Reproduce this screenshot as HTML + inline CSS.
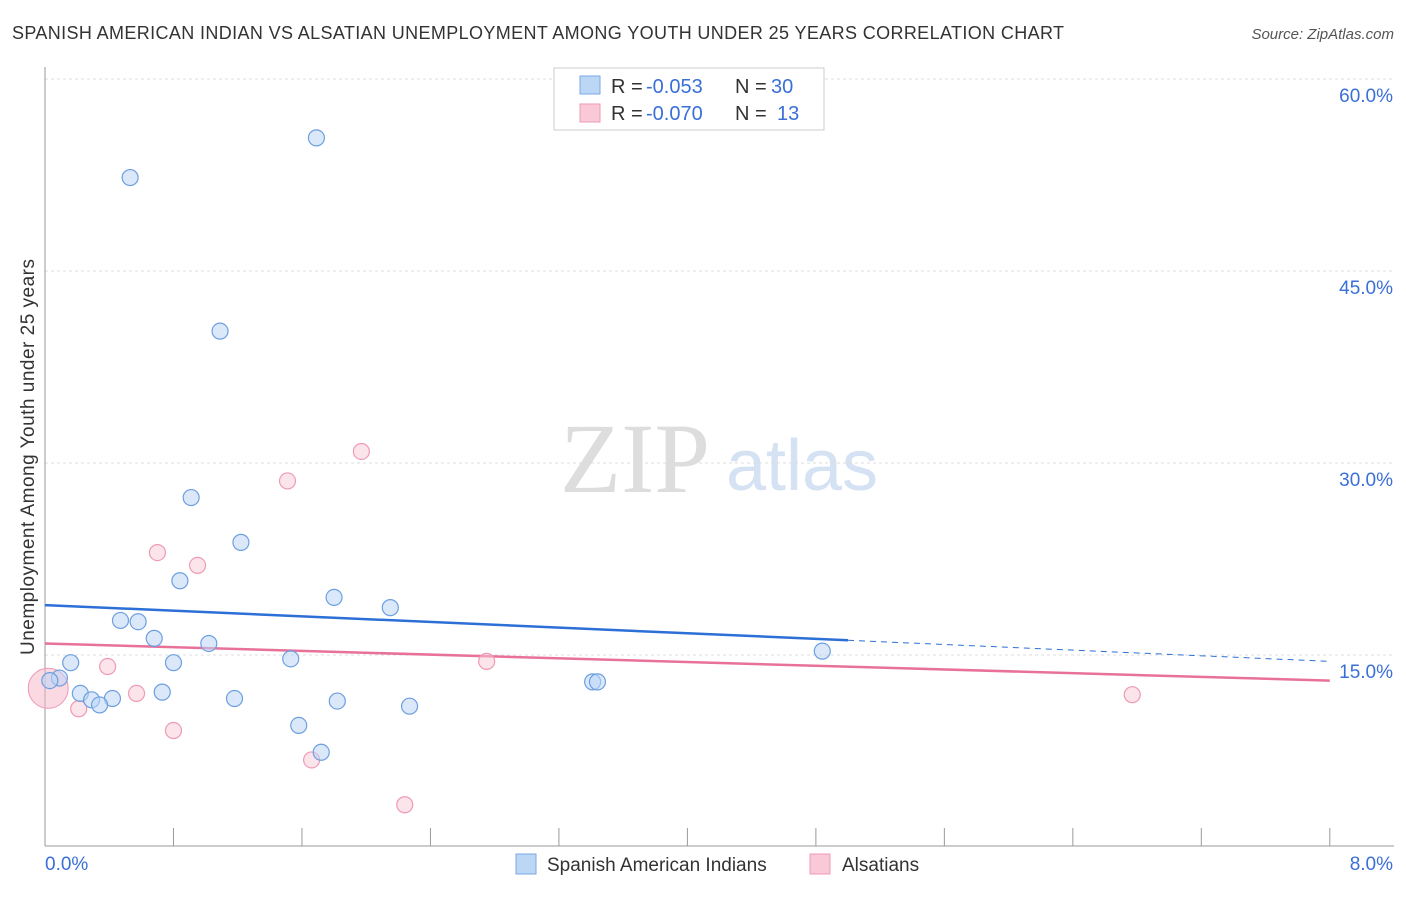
<!DOCTYPE html>
<html><head><meta charset="utf-8"><style>
body{margin:0;background:#fff;font-family:"Liberation Sans",sans-serif}
svg text{font-family:"Liberation Sans",sans-serif}
</style></head><body>
<svg id="chart" width="1406" height="892">
<text x="12" y="39" font-size="18" fill="#333" textLength="1052">SPANISH AMERICAN INDIAN VS ALSATIAN UNEMPLOYMENT AMONG YOUTH UNDER 25 YEARS CORRELATION CHART</text>
<text x="1394" y="39" font-size="15" fill="#555" text-anchor="end" font-style="italic">Source: ZipAtlas.com</text>
<text x="635" y="492" font-size="100" fill="#ddd" text-anchor="middle" style="font-family:'Liberation Serif',serif">ZIP</text>
<text x="802" y="490" font-size="72" fill="#d5e2f3" text-anchor="middle">atlas</text>
<text transform="translate(34,457) rotate(-90)" font-size="19" fill="#333" text-anchor="middle" textLength="396">Unemployment Among Youth under 25 years</text>
<g id="grid"></g><g id="trend"></g><g id="pts"></g>
<g>
<rect x="554" y="68" width="270" height="62" fill="#fff" stroke="#ccc"/>
<rect x="580" y="76" width="20" height="18" fill="#bcd6f5" stroke="#7aa8e6"/>
<rect x="580" y="104" width="20" height="18" fill="#f9c9d8" stroke="#ee9ab5"/>
<text x="611" y="93" font-size="20" fill="#333">R =</text>
<text x="646" y="93" font-size="20" fill="#3a6fd8">-0.053</text>
<text x="735" y="93" font-size="20" fill="#333">N =</text>
<text x="771" y="93" font-size="20" fill="#3a6fd8">30</text>
<text x="611" y="120" font-size="20" fill="#333">R =</text>
<text x="646" y="120" font-size="20" fill="#3a6fd8">-0.070</text>
<text x="735" y="120" font-size="20" fill="#333">N =</text>
<text x="777" y="120" font-size="20" fill="#3a6fd8">13</text>
</g>
<g>
<rect x="516" y="854" width="20" height="20" fill="#bcd6f5" stroke="#7aa8e6"/>
<text x="547" y="871" font-size="19" fill="#333">Spanish American Indians</text>
<rect x="810" y="854" width="20" height="20" fill="#f9c9d8" stroke="#ee9ab5"/>
<text x="842" y="871" font-size="19" fill="#333">Alsatians</text>
</g>
</svg>
<script>
const yTicks=[15,30,45,60];
const xTickLabels=["0.0%","8.0%"];
const blueX=[0.53,1.69,1.09,0.91,1.22,0.84,1.80,2.15,0.47,0.58,0.68,1.02,0.16,0.80,1.53,0.09,0.03,0.22,0.73,0.29,0.42,0.34,1.18,1.82,2.27,1.58,1.72,3.41,3.44,4.84];
const blueY=[52.3,55.4,40.3,27.3,23.8,20.8,19.5,18.7,17.7,17.6,16.3,15.9,14.4,14.4,14.7,13.2,13.0,12.0,12.1,11.5,11.6,11.1,11.6,11.4,11.0,9.5,7.4,12.9,12.9,15.3];
const pinkX=[1.97,1.51,0.70,0.95,0.39,0.57,0.21,0.80,2.75,1.66,2.24,6.77];
const pinkY=[30.9,28.6,23.0,22.0,14.1,12.0,10.8,9.1,14.5,6.8,3.3,11.9];
const bigPinkX=[0.02],bigPinkY=[12.4];
const blueTrend=[18.9,14.5],blueSolidEnd=5.0;
const pinkTrend=[15.9,13.0];
const X=v=>45+v*160.6, Y=v=>847-v*12.8;
const NS="http://www.w3.org/2000/svg";
function mk(tag,attrs,parent){const e=document.createElementNS(NS,tag);for(const k in attrs)e.setAttribute(k,attrs[k]);parent.appendChild(e);return e;}
const grid=document.getElementById('grid');
yTicks.forEach(t=>{
 const l=mk('line',{x1:45,x2:1394,y1:Y(t),y2:Y(t),stroke:'#ddd','stroke-dasharray':'3,3'},grid);
 
 
 const tx=mk('text',{x:1393,y:Y(t)+23,'font-size':19,fill:'#3a6fd8','text-anchor':'end'},grid);
 tx.textContent=t.toFixed(1)+'%';
 
 
});
const ax=mk('line',{x1:45,x2:1394,y1:846,y2:846,stroke:'#999'},grid);


const ay=mk('line',{x1:45,x2:45,y1:67,y2:846,stroke:'#999'},grid);


for(let i=0;i<=10;i++){const t=mk('line',{x1:X(i*0.8),x2:X(i*0.8),y1:828,y2:846,stroke:'#999'},grid);
 
 }
xTickLabels.forEach((s,i)=>{const t=mk('text',{x:i?1393:45,y:870,'font-size':19,fill:'#3a6fd8','text-anchor':i?'end':'start'},grid);t.textContent=s;
 
 });
const tr=document.getElementById('trend');
const bs=blueTrend[0]+(blueTrend[1]-blueTrend[0])*blueSolidEnd/8;
let e=mk('line',{x1:X(0),y1:Y(blueTrend[0]),x2:X(blueSolidEnd),y2:Y(bs),stroke:'#2c6fd6','stroke-width':2.5},tr);


e=mk('line',{x1:X(blueSolidEnd),y1:Y(bs),x2:X(8),y2:Y(blueTrend[1]),stroke:'#2c6fd6','stroke-width':1,'stroke-dasharray':'6,5'},tr);


e=mk('line',{x1:X(0),y1:Y(pinkTrend[0]),x2:X(8),y2:Y(pinkTrend[1]),stroke:'#e8719a','stroke-width':2.5},tr);


const pts=document.getElementById('pts');
bigPinkX.forEach((v,i)=>{const c=mk('circle',{cx:X(v),cy:Y(bigPinkY[i]),r:20,fill:'rgba(246,180,200,0.5)',stroke:'#ee9ab5'},pts);
 
 });
pinkX.forEach((v,i)=>{const c=mk('circle',{cx:X(v),cy:Y(pinkY[i]),r:8,fill:'rgba(249,201,216,0.5)',stroke:'#ee9ab5','stroke-width':1.2},pts);
 
 });
blueX.forEach((v,i)=>{const c=mk('circle',{cx:X(v),cy:Y(blueY[i]),r:8,fill:'rgba(188,214,245,0.55)',stroke:'#6d9fe0','stroke-width':1.2},pts);
 
 });
</script>
</body></html>
